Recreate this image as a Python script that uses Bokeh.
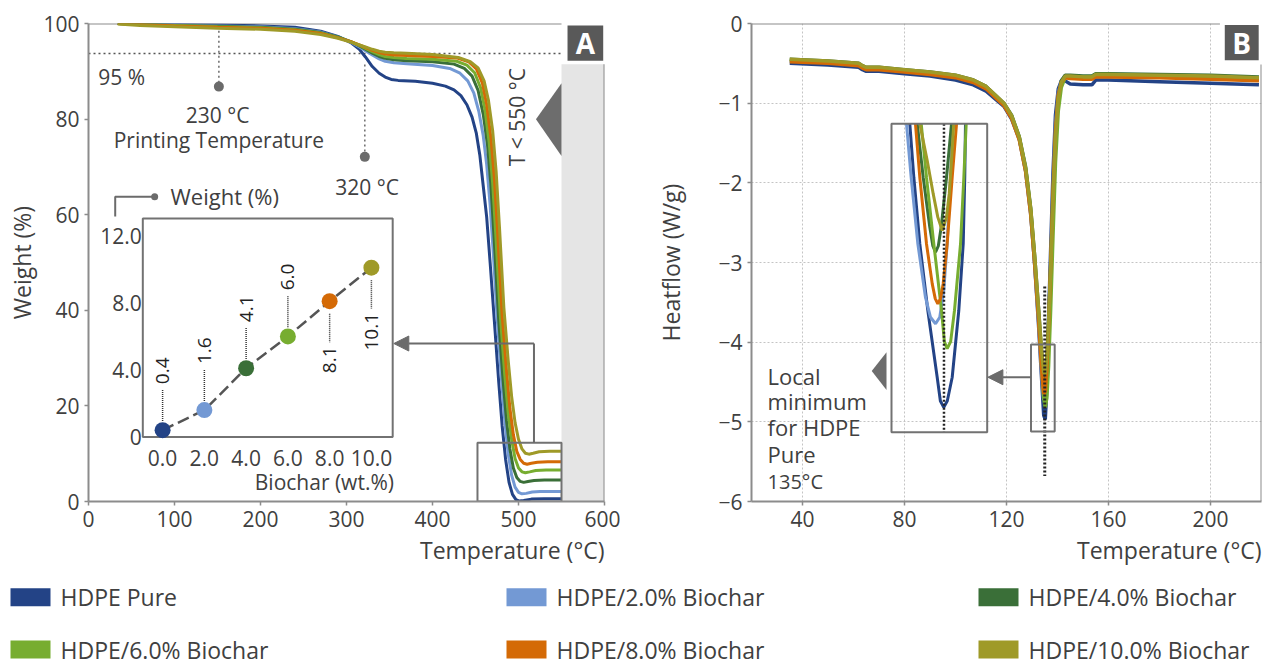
import math
from bokeh.plotting import figure
from bokeh.models import Range1d, FixedTicker, Arrow, NormalHead, Title
from bokeh.layouts import column, row
from bokeh.embed import file_html
from bokeh.resources import INLINE
from bokeh.core.properties import value

FONT = "Open Sans"
TXT = "#404040"
AX = "#8c8c8c"
ANN = "#6b6b6b"
BOX = "#727272"

# ---------------- data ----------------
series_labels = ["HDPE Pure", "HDPE/2.0% Biochar", "HDPE/4.0% Biochar",
                 "HDPE/6.0% Biochar", "HDPE/8.0% Biochar", "HDPE/10.0% Biochar"]
series_colors = ["#234386", "#7399d4", "#3a6f38", "#77ad30", "#d46a06", "#9f9a28"]

# TGA (A): temperature (°C) / weight (%)
tga_T_pure = [34, 60, 100, 150, 200, 240, 270, 290, 305, 315, 322, 330, 338, 345, 352, 360, 380, 400, 415, 425,
              433, 440, 446, 451, 455, 459, 463, 467, 472, 477, 481, 485, 489, 493, 497, 501, 506, 515, 530, 550]
tga_W_pure = [100, 99.9, 99.8, 99.7, 99.5, 99.2, 98.4, 97.3, 96.0, 94.6, 93.0, 91.0, 89.6, 88.8, 88.3, 88.1, 87.9, 87.5, 86.9, 86.1,
              84.9, 83.0, 80.4, 77.0, 72.5, 66.0, 59.5, 50.0, 37.6, 25.0, 15.8, 8.8, 4.0, 1.5, 0.4, 0.1, 0.2, 0.5, 0.6, 0.6]
tga_T_2 = [34, 60, 100, 150, 200, 240, 270, 290, 305, 315, 322, 330, 338, 345, 355, 370, 400, 420, 432, 441,
           448, 454, 459, 463, 467, 471, 475, 480, 484, 488, 492, 496, 500, 504, 509, 516, 525, 550]
tga_W_2 = [100, 99.9, 99.7, 99.5, 99.3, 98.9, 98.2, 97.2, 96.1, 95.1, 94.3, 93.4, 92.6, 92.1, 91.8, 91.6, 91.2, 90.6, 89.6, 88.0,
           85.5, 81.5, 76.5, 70.5, 62.0, 51.0, 39.0, 26.0, 17.0, 10.0, 5.5, 3.0, 1.9, 1.6, 1.7, 2.0, 2.1, 2.1]
tga_T_4 = [34, 60, 100, 150, 200, 240, 270, 290, 305, 315, 322, 330, 338, 345, 355, 370, 400, 425, 437, 446,
           453, 459, 464, 468, 472, 477, 482, 486, 490, 494, 498, 502, 506, 511, 518, 530, 550]
tga_W_4 = [100, 99.9, 99.6, 99.4, 99.2, 98.8, 98.1, 97.2, 96.2, 95.3, 94.6, 93.8, 93.1, 92.7, 92.4, 92.2, 92.0, 91.5, 90.6, 89.0,
           86.0, 81.0, 74.5, 66.0, 54.0, 38.0, 25.5, 17.0, 11.0, 7.0, 5.0, 4.2, 4.0, 4.2, 4.4, 4.5, 4.5]
tga_T_6 = [34, 60, 100, 150, 200, 240, 270, 290, 305, 315, 322, 330, 338, 345, 355, 370, 400, 428, 440, 449,
           456, 461, 466, 470, 474, 479, 484, 488, 492, 496, 500, 504, 508, 513, 520, 532, 550]
tga_W_6 = [100, 99.8, 99.6, 99.3, 99.1, 98.7, 98.0, 97.1, 96.2, 95.4, 94.8, 94.1, 93.5, 93.1, 92.9, 92.7, 92.5, 92.1, 91.3, 89.7,
           86.5, 82.0, 75.0, 66.5, 54.5, 38.5, 26.5, 18.5, 13.0, 9.0, 7.0, 6.2, 6.0, 6.2, 6.5, 6.6, 6.6]
tga_T_8 = [34, 60, 100, 150, 200, 240, 270, 290, 305, 315, 322, 330, 338, 345, 355, 370, 400, 428, 442, 451,
           458, 463, 468, 472, 476, 481, 486, 490, 494, 498, 502, 506, 510, 515, 522, 534, 550]
tga_W_8 = [100, 99.8, 99.5, 99.2, 99.0, 98.6, 97.9, 97.0, 96.2, 95.5, 95.0, 94.4, 93.9, 93.6, 93.4, 93.3, 93.1, 92.8, 92.0, 90.5,
           87.5, 83.0, 76.0, 67.5, 55.5, 39.0, 27.5, 19.5, 14.0, 10.5, 8.8, 8.0, 7.8, 8.0, 8.2, 8.3, 8.3]
tga_T_10 = [34, 60, 100, 150, 200, 240, 270, 290, 305, 315, 322, 330, 338, 345, 355, 370, 400, 430, 444, 453,
            460, 465, 470, 474, 478, 483, 488, 492, 496, 500, 504, 508, 512, 517, 524, 536, 550]
tga_W_10 = [99.9, 99.6, 99.3, 99.0, 98.8, 98.4, 97.7, 96.9, 96.1, 95.5, 95.1, 94.6, 94.2, 94.0, 93.9, 93.8, 93.5, 92.9, 92.0, 90.7,
            88.0, 84.0, 77.5, 69.0, 57.0, 40.5, 29.5, 22.0, 16.5, 13.0, 11.0, 10.1, 9.9, 10.1, 10.4, 10.5, 10.5]
tga_temps = [tga_T_pure, tga_T_2, tga_T_4, tga_T_6, tga_T_8, tga_T_10]
tga_weights = [tga_W_pure, tga_W_2, tga_W_4, tga_W_6, tga_W_8, tga_W_10]

# inset of A: residue weight vs biochar content
biochar_wt = [0, 2, 4, 6, 8, 10]
residue_wt = [0.4, 1.6, 4.1, 6.0, 8.1, 10.1]
residue_labels = ["0.4", "1.6", "4.1", "6.0", "8.1", "10.1"]
residue_label_side = [1, 1, 1, 1, -1, -1]
inset_x_ticks = [0, 2, 4, 6, 8, 10]
inset_x_labels = ["0.0", "2.0", "4.0", "6.0", "8.0", "10.0"]
inset_y_ticks = [0, 4, 8, 12]
inset_y_labels = ["0", "4.0", "8.0", "12.0"]

# DSC (B): temperature (°C) / heat flow (W/g)
dsc_T = [35, 50, 62, 63.5, 65, 70, 80, 90, 100, 107, 112, 116, 119, 122, 125, 127.5, 129.5, 131, 132.5, 133.8,
         134.6, 135.2, 135.8, 136.5, 137.3, 138.2, 139.2, 140.3, 141.5, 143, 145, 150, 153.5, 155, 160, 180, 200, 219]
dsc_pure = [-0.50, -0.52, -0.55, -0.58, -0.60, -0.60, -0.63, -0.66, -0.71, -0.77, -0.85, -0.96, -1.04, -1.20, -1.45, -1.85, -2.38, -3.00, -3.75, -4.48,
            -4.92, -4.97, -4.60, -3.70, -2.85, -1.90, -1.15, -0.82, -0.72, -0.72, -0.76, -0.77, -0.77, -0.71, -0.71, -0.73, -0.75, -0.77]
dsc_2 = [-0.47, -0.49, -0.52, -0.55, -0.57, -0.57, -0.60, -0.63, -0.67, -0.73, -0.81, -0.93, -1.02, -1.18, -1.45, -1.85, -2.40, -3.00, -3.70, -4.40,
         -4.72, -4.70, -4.45, -3.85, -3.00, -2.10, -1.30, -0.88, -0.72, -0.66, -0.67, -0.68, -0.68, -0.65, -0.65, -0.67, -0.69, -0.71]
dsc_4 = [-0.45, -0.47, -0.50, -0.53, -0.55, -0.55, -0.58, -0.61, -0.65, -0.71, -0.79, -0.91, -1.00, -1.15, -1.42, -1.80, -2.32, -2.90, -3.55, -4.15,
         -4.45, -4.47, -4.25, -3.75, -3.05, -2.20, -1.40, -0.92, -0.72, -0.65, -0.65, -0.66, -0.66, -0.63, -0.63, -0.64, -0.65, -0.67]
dsc_6 = [-0.46, -0.48, -0.51, -0.54, -0.56, -0.56, -0.59, -0.62, -0.66, -0.72, -0.80, -0.92, -1.01, -1.16, -1.43, -1.82, -2.35, -2.95, -3.62, -4.30,
         -4.70, -4.82, -4.70, -4.30, -3.60, -2.70, -1.75, -1.10, -0.80, -0.68, -0.67, -0.67, -0.67, -0.64, -0.64, -0.66, -0.68, -0.70]
dsc_8 = [-0.48, -0.50, -0.53, -0.56, -0.58, -0.58, -0.61, -0.64, -0.68, -0.74, -0.82, -0.94, -1.03, -1.19, -1.46, -1.86, -2.40, -3.00, -3.68, -4.35,
         -4.65, -4.62, -4.35, -3.80, -3.05, -2.15, -1.35, -0.90, -0.74, -0.68, -0.69, -0.70, -0.70, -0.67, -0.67, -0.68, -0.70, -0.72]
dsc_10 = [-0.45, -0.47, -0.50, -0.53, -0.55, -0.55, -0.58, -0.61, -0.65, -0.71, -0.79, -0.91, -1.00, -1.16, -1.43, -1.82, -2.33, -2.90, -3.55, -4.12,
          -4.38, -4.40, -4.20, -3.75, -3.10, -2.25, -1.45, -0.95, -0.74, -0.66, -0.66, -0.67, -0.67, -0.64, -0.64, -0.65, -0.66, -0.68]
dsc_flows = [dsc_pure, dsc_2, dsc_4, dsc_6, dsc_8, dsc_10]

# magnified view of the melting minima (B)
mag_T_pure = [131.38, 131.77, 132.35, 133.13, 134.04, 134.35, 134.68, 135.02, 135.50, 136.14, 136.57, 136.72, 136.79]
mag_H_pure = [-4.03, -4.219, -4.454, -4.69, -4.926, -5.01, -5.032, -5.01, -4.926, -4.69, -4.454, -4.219, -4.03]
mag_T_2 = [131.06, 131.51, 132.16, 132.90, 133.39, 133.88, 134.29, 134.68, 135.01, 135.33, 135.56]
mag_H_2 = [-4.03, -4.219, -4.454, -4.643, -4.714, -4.737, -4.714, -4.619, -4.454, -4.219, -4.03]
mag_T_4 = [132.10, 132.68, 133.32, 133.62, 133.88, 134.15, 134.43, 134.95, 135.43]
mag_H_4 = [-4.03, -4.219, -4.395, -4.462, -4.484, -4.462, -4.395, -4.219, -4.03]
mag_T_6 = [132.49, 133.0, 133.71, 134.46, 134.74, 135.01, 135.35, 135.72, 136.31, 136.63, 136.86]
mag_H_6 = [-4.03, -4.219, -4.454, -4.69, -4.80, -4.825, -4.80, -4.69, -4.454, -4.219, -4.03]
mag_T_8 = [131.93, 132.35, 133.0, 133.56, 133.85, 134.10, 134.36, 134.62, 135.01, 135.50, 135.92]
mag_H_8 = [-4.03, -4.219, -4.454, -4.596, -4.648, -4.666, -4.648, -4.596, -4.454, -4.219, -4.03]
mag_T_10 = [132.35, 133.07, 133.65, 134.10, 134.53, 134.95, 135.21, 135.43, 135.65]
mag_H_10 = [-4.03, -4.16, -4.277, -4.36, -4.407, -4.36, -4.277, -4.16, -4.03]
mag_temps = [mag_T_pure, mag_T_2, mag_T_4, mag_T_6, mag_T_8, mag_T_10]
mag_flows = [mag_H_pure, mag_H_2, mag_H_4, mag_H_6, mag_H_8, mag_H_10]

tga_x_ticks = [0, 100, 200, 300, 400, 500, 600]
tga_y_ticks = [0, 20, 40, 60, 80, 100]
dsc_x_ticks = [40, 80, 120, 160, 200]
dsc_y_ticks = [-6, -5, -4, -3, -2, -1, 0]


# ---------------- helpers ----------------
def txt(p, x, y, t, size="21px", align="center", baseline="middle", angle=0.0,
        color=TXT, style="normal", **kw):
    p.text(x=x, y=y, text=t, text_font=value(FONT), text_font_size=size,
           text_align=align, text_baseline=baseline, angle=angle,
           text_color=color, text_font_style=style, **kw)


def style_axes(p):
    p.outline_line_color = None
    p.background_fill_color = "white"
    p.border_fill_color = "white"
    for ax in p.axis:
        ax.axis_line_color = AX
        ax.axis_line_width = 2
        ax.major_tick_line_color = AX
        ax.major_tick_line_width = 1.5
        ax.major_tick_in = 0
        ax.major_tick_out = 4
        ax.minor_tick_line_color = None
        ax.major_label_text_font = FONT
        ax.major_label_text_font_size = "21px"
        ax.major_label_text_color = TXT
        ax.major_label_standoff = 5
        ax.axis_label_text_font = FONT
        ax.axis_label_text_font_size = "23px"
        ax.axis_label_text_font_style = "normal"
        ax.axis_label_text_color = TXT


def x_title(p, text):
    p.add_layout(Title(text=text, align="right", text_font=FONT, text_font_size="23px",
                       text_font_style="normal", text_color=TXT, standoff=4), "below")


# ---------------- panel A (TGA) ----------------
pA = figure(width=620, height=572, x_range=Range1d(0, 600), y_range=Range1d(0, 100),
            output_backend="svg", toolbar_location=None,
            min_border_left=88, min_border_right=16, min_border_top=23, min_border_bottom=71)
pA.extra_x_ranges = {"ix": Range1d(-3.549, 21.164)}
pA.extra_y_ranges = {"iy": Range1d(-3.857, 24.68)}
style_axes(pA)
pA.grid.visible = False
pA.xaxis.ticker = FixedTicker(ticks=tga_x_ticks)
pA.yaxis.ticker = FixedTicker(ticks=tga_y_ticks)
pA.yaxis.axis_label = "Weight (%)"
pA.yaxis.axis_label_standoff = 2
x_title(pA, "Temperature (°C)")

# excluded region > 550 °C
pA.quad(left=[550], right=[600], bottom=[0], top=[91.5], fill_color="#e5e5e5", line_color=None)
pA.line([600, 600], [0, 91.5], line_color=AX, line_width=2)
pA.line([0, 550], [100, 100], line_color=AX, line_width=2)

# 95 % line and temperature markers
pA.line([0, 550], [93.7, 93.7], line_color="#555555", line_width=1.5, line_dash="2 3")
pA.line([151.6, 151.6], [98.5, 86.8], line_color=ANN, line_width=1.5, line_dash="2 3")
pA.line([321.3, 321.3], [91.4, 72.1], line_color=ANN, line_width=1.5, line_dash="2 3")
pA.scatter([151.6, 321.3], [86.8, 72.1], size=10, fill_color=ANN, line_color=None)

for T, W, c in zip(tga_temps, tga_weights, series_colors):
    pA.line(T, W, line_color=c, line_width=3)

txt(pA, [11.3], [88.8], ["95 %"], align="left")
txt(pA, [150.2], [80.9], ["230 °C"])
txt(pA, [151.6], [75.6], ["Printing Temperature"])
txt(pA, [324], [65.8], ["320 °C"])
txt(pA, [497.9], [80.4], ["T < 550 °C"], angle=math.pi / 2)

# wedge and panel tag
pA.patch([520.3, 550, 550], [79.95, 87.5, 72.3], fill_color="#6d6d6d", line_color=None)
pA.quad(left=[557], right=[598.5], top=[99.6], bottom=[92.2], fill_color="#595959", line_color=None)
txt(pA, [577.7], [95.9], ["A"], size="28px", color="white", style="bold")

# zoom box and arrow to the inset
pA.quad(left=[452.3], right=[550], bottom=[0], top=[12.3], fill_color=None, line_color=BOX, line_width=2)
pA.line([518, 518], [12.3, 33.05], line_color=ANN, line_width=2)
pA.add_layout(Arrow(end=NormalHead(size=15, fill_color=ANN, line_color=ANN),
                    x_start=518, y_start=33.05, x_end=355, y_end=33.05,
                    line_color=ANN, line_width=2))

# inset (residue weight)
I = dict(x_range_name="ix", y_range_name="iy")
pA.quad(left=[-0.948], right=[11.02], bottom=[0], top=[13.04], fill_color=None,
        line_color=BOX, line_width=2, **I)
pA.line(biochar_wt, residue_wt, line_color="#555555", line_width=2.5, line_dash="12 5", **I)
up_x = [b for b, s in zip(biochar_wt, residue_label_side) if s > 0]
up_v = [r for r, s in zip(residue_wt, residue_label_side) if s > 0]
up_t = [t for t, s in zip(residue_labels, residue_label_side) if s > 0]
dn_x = [b for b, s in zip(biochar_wt, residue_label_side) if s < 0]
dn_v = [r for r, s in zip(residue_wt, residue_label_side) if s < 0]
dn_t = [t for t, s in zip(residue_labels, residue_label_side) if s < 0]
pA.segment(x0=up_x, y0=[v + 0.55 for v in up_v], x1=up_x, y1=[v + 2.45 for v in up_v],
           line_color="#333333", line_width=1.5, line_dash="1 1", **I)
pA.segment(x0=dn_x, y0=[v - 0.75 for v in dn_v], x1=dn_x, y1=[v - 2.45 for v in dn_v],
           line_color="#333333", line_width=1.5, line_dash="1 1", **I)
pA.scatter(biochar_wt, residue_wt, size=16, fill_color=series_colors, line_color=None, **I)
txt(pA, up_x, [v + 2.75 for v in up_v], up_t, size="19px", align="left", angle=math.pi / 2, color="#222222", **I)
txt(pA, dn_x, [v - 2.7 for v in dn_v], dn_t, size="19px", align="right", angle=math.pi / 2, color="#222222", **I)
txt(pA, inset_x_ticks, [-1.25] * len(inset_x_ticks), inset_x_labels, **I)
txt(pA, [-1.0] * len(inset_y_ticks), inset_y_ticks, inset_y_labels, align="right", **I)
txt(pA, [11.08], [-2.72], ["Biochar (wt.%)"], align="right", **I)
pA.line([-2.27, -2.27, -0.38], [13.16, 14.33, 14.33], line_color=ANN, line_width=2, **I)
pA.scatter([-0.38], [14.33], size=7, fill_color=ANN, line_color=None, **I)
txt(pA, [0.38], [14.37], ["Weight (%)"], size="22px", align="left", **I)

# ---------------- panel B (DSC) ----------------
pB = figure(width=644, height=572, x_range=Range1d(20, 220), y_range=Range1d(-6, 0),
            output_backend="svg", toolbar_location=None,
            min_border_left=131, min_border_right=3, min_border_top=23, min_border_bottom=71)
pB.extra_x_ranges = {"mx": Range1d(115.995, 165.557)}
pB.extra_y_ranges = {"my": Range1d(-5.3652, -3.6755)}
style_axes(pB)
pB.xaxis.ticker = FixedTicker(ticks=dsc_x_ticks)
pB.yaxis.ticker = FixedTicker(ticks=dsc_y_ticks)
pB.yaxis.major_label_overrides = {t: ("\u2212" + str(abs(t)) if t < 0 else str(t)) for t in dsc_y_ticks}
pB.yaxis.axis_label = "Heatflow (W/g)"
pB.yaxis.axis_label_standoff = 28
x_title(pB, "Temperature (°C)")
pB.xgrid.ticker = FixedTicker(ticks=dsc_x_ticks)
pB.ygrid.ticker = FixedTicker(ticks=[-5, -4, -3, -2, -1])
pB.grid.grid_line_color = "#c4c4c4"
pB.grid.grid_line_dash = "2 2"
pB.grid.grid_line_width = 1

pB.line([20, 203.7], [0, 0], line_color=AX, line_width=2)
pB.line([220, 220], [-0.515, -6], line_color=AX, line_width=2)

for F, c in zip(dsc_flows, series_colors):
    pB.line(dsc_T, F, line_color=c, line_width=3.5)

pB.line([135, 135], [-3.30, -5.68], line_color="#222222", line_width=3, line_dash="2 2")
pB.quad(left=[129.6], right=[138.9], top=[-4.03], bottom=[-5.12], fill_color=None,
        line_color=BOX, line_width=2)
pB.add_layout(Arrow(end=NormalHead(size=15, fill_color=ANN, line_color=ANN),
                    x_start=129.6, y_start=-4.44, x_end=112.7, y_end=-4.44,
                    line_color=ANN, line_width=2))

# magnified minima
M = dict(x_range_name="mx", y_range_name="my")
for T, F, c in zip(mag_temps, mag_flows, series_colors):
    pB.line(T, F, line_color=c, line_width=3, **M)
pB.line([134.7, 134.7], [-4.03, -5.12], line_color="#222222", line_width=2.5, line_dash="2 2", **M)
pB.quad(left=[129.6], right=[138.9], top=[-4.03], bottom=[-5.12], fill_color=None,
        line_color=BOX, line_width=2, **M)
pB.patch([67.15, 72.95, 72.95], [-4.363, -4.128, -4.60], fill_color="#6d6d6d", line_color=None)

txt(pB, [26.3] * 4, [-4.42, -4.743, -5.071, -5.399], ["Local", "minimum", "for HDPE", "Pure"],
    size="22px", align="left")
txt(pB, [26.3], [-5.745], ["135°C"], size="20px", align="left")

pB.quad(left=[205.6], right=[218.9], top=[-0.02], bottom=[-0.46], fill_color="#595959", line_color=None)
txt(pB, [212.25], [-0.24], ["B"], size="28px", color="white", style="bold")

# ---------------- legend ----------------
pL = figure(width=1264, height=94, x_range=Range1d(0, 1264), y_range=Range1d(94, 0),
            output_backend="svg", toolbar_location=None, min_border=0,
            x_axis_location=None, y_axis_location=None)
pL.outline_line_color = None
pL.grid.visible = False
legend_col_x = [10, 506, 978]
legend_row_y = [24.7, 77]
lx = [legend_col_x[i % 3] for i in range(len(series_labels))]
ly = [legend_row_y[i // 3] for i in range(len(series_labels))]
pL.rect(x=[v + 20 for v in lx], y=ly, width=40, height=18, fill_color=series_colors, line_color=None)
txt(pL, [v + 50 for v in lx], ly, series_labels, size="23px", align="left")

layout = column(row(pA, pB), pL)
open("out.html", "w").write(file_html(layout, INLINE, title="TGA and DSC of HDPE/biochar"))
